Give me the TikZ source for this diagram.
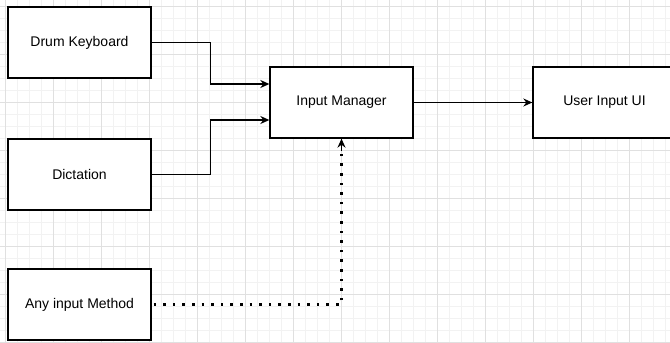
\documentclass[tikz,border=0pt]{standalone}
\usepackage{fontspec}
\setmainfont{Liberation Sans}
\usetikzlibrary{arrows.meta,positioning}

\begin{document}
\begin{tikzpicture}[x=1pt,y=-1pt,font=\fontsize{14}{16}\selectfont,
 b/.style={draw,line width=1.3pt,fill=white,minimum width=143pt,minimum height=71pt,inner sep=0pt},
 arr/.style={line width=1.4pt,-{Stealth[length=9pt,width=8pt]}},
 dots/.style={line width=2.6pt,dash pattern=on 2.6pt off 7pt},
 minor/.style={draw=black!5,line width=0.7pt},
 major/.style={draw=black!12,line width=0.9pt}]
\useasboundingbox (0,0) rectangle (670,343);
\fill[white] (0,0) rectangle (670,343);
% background grid
\foreach \x in {5,17,...,670} \draw[minor] (\x,0) -- (\x,343);
\foreach \y in {6,18,...,343} \draw[minor] (0,\y) -- (670,\y);
\foreach \x in {5,53,...,670} \draw[major] (\x,0) -- (\x,343);
\foreach \y in {6,54,...,343} \draw[major] (0,\y) -- (670,\y);
% boxes
\node[b](dk) at (79.5,42.5){Drum Keyboard};
\node[b](dict) at (79.5,174.5){Dictation};
\node[b](any) at (79.5,304.5){Any input Method};
\node[b](im) at (341.5,102.5){Input Manager};
\node[b](ui) at (604.5,102.5){User Input UI};
% connectors
\draw[arr](dk.east) -- ++(59,0) |- ([yshift=18.5pt]im.west);
\draw[arr](dict.east) -- ++(59,0) |- ([yshift=-17.5pt]im.west);
\draw[arr](im) -- (ui);
\draw[dots]([xshift=2pt]any.east) -| ([yshift=-12pt]im.south);
\draw[arr]([yshift=-12pt]im.south) -- (im.south);
\end{tikzpicture}
\end{document}
